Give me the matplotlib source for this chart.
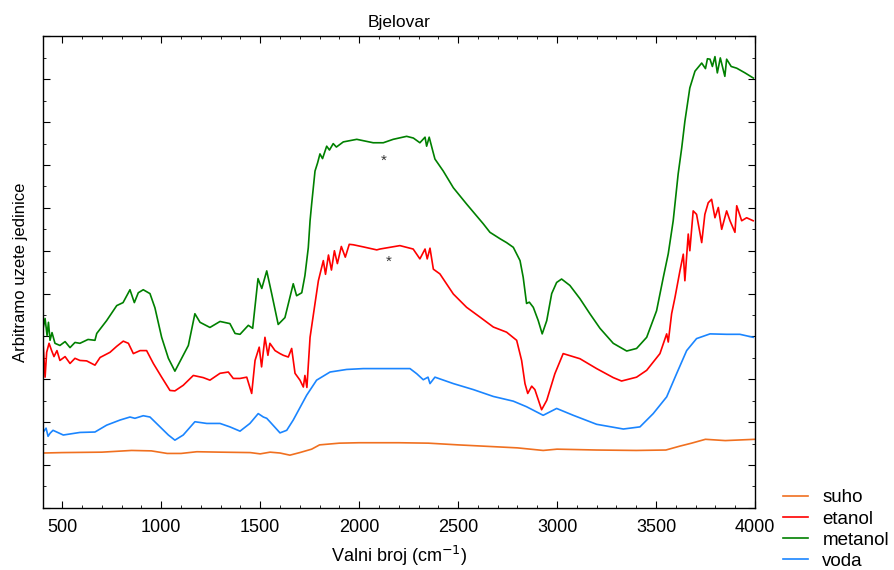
import matplotlib
matplotlib.use("Agg")
import matplotlib.pyplot as plt
from matplotlib.ticker import MultipleLocator, NullFormatter

plt.rcParams['font.family'] = ['Liberation Sans', 'DejaVu Sans']

# metanol (green)
wn_metanol = [404, 413, 423, 430, 438, 448, 463, 488, 514, 539, 564, 589, 630, 665, 674,
              724, 775, 807, 842, 864, 884, 909, 943, 968, 1002, 1036, 1069, 1103, 1137,
              1170, 1196, 1246, 1297, 1347, 1373, 1398, 1440, 1462, 1489, 1508, 1533, 1558,
              1591, 1625, 1667, 1684, 1710, 1726, 1743, 1752, 1760, 1777, 1790, 1802, 1815,
              1836, 1850, 1869, 1885, 1920, 1988, 2071, 2122, 2172, 2240, 2274, 2307, 2333,
              2341, 2354, 2372, 2383, 2425, 2476, 2543, 2627, 2661, 2712, 2745, 2779, 2813,
              2829, 2846, 2860, 2880, 2905, 2925, 2948, 2973, 2998, 3023, 3065, 3116, 3166,
              3217, 3284, 3352, 3402, 3453, 3503, 3537, 3562, 3587, 3612, 3630, 3646, 3671,
              3697, 3731, 3750, 3760, 3773, 3785, 3798, 3810, 3825, 3848, 3857, 3880, 3908,
              3950, 3992]
y_metanol = [4.21, 4.42, 4.02, 4.33, 3.91, 4.09, 3.84, 3.79, 3.88, 3.74, 3.86, 3.84, 3.93,
             3.91, 4.07, 4.37, 4.72, 4.79, 5.09, 4.79, 5.02, 5.09, 5.00, 4.67, 3.98, 3.49,
             3.19, 3.49, 3.79, 4.53, 4.33, 4.21, 4.35, 4.30, 4.07, 4.05, 4.26, 4.19, 5.35,
             5.12, 5.53, 5.00, 4.28, 4.44, 5.23, 4.95, 5.02, 5.42, 6.07, 6.70, 7.09, 7.86,
             8.05, 8.26, 8.15, 8.44, 8.35, 8.50, 8.42, 8.54, 8.60, 8.52, 8.52, 8.60, 8.67,
             8.63, 8.52, 8.65, 8.44, 8.65, 8.33, 8.14, 7.86, 7.47, 7.09, 6.63, 6.43, 6.28,
             6.19, 6.08, 5.77, 5.38, 4.77, 4.80, 4.68, 4.37, 4.06, 4.37, 5.00, 5.26, 5.34,
             5.19, 4.88, 4.53, 4.19, 3.84, 3.66, 3.72, 3.98, 4.60, 5.38, 5.93, 6.70, 7.79,
             8.40, 9.02, 9.80, 10.19, 10.38, 10.25, 10.48, 10.47, 10.30, 10.53, 10.15, 10.50,
             10.07, 10.47, 10.30, 10.26, 10.15, 10.03]

# etanol (red)
wn_etanol = [404, 413, 421, 433, 446, 458, 473, 488, 514, 539, 564, 589, 623, 665, 691,
             741, 775, 808, 834, 859, 893, 926, 960, 1002, 1044, 1069, 1111, 1162, 1212,
             1246, 1297, 1339, 1364, 1398, 1432, 1457, 1474, 1495, 1507, 1524, 1539, 1549,
             1575, 1600, 1617, 1642, 1659, 1676, 1701, 1718, 1726, 1736, 1752, 1777, 1794,
             1819, 1830, 1845, 1860, 1875, 1890, 1910, 1930, 1950, 1970, 2021, 2089, 2105,
             2206, 2273, 2307, 2333, 2344, 2358, 2375, 2408, 2476, 2543, 2611, 2678, 2745,
             2796, 2821, 2838, 2852, 2872, 2888, 2922, 2948, 2989, 3031, 3116, 3200, 3284,
             3326, 3402, 3453, 3520, 3554, 3562, 3579, 3596, 3621, 3638, 3646, 3663, 3671,
             3688, 3705, 3731, 3747, 3764, 3781, 3798, 3815, 3832, 3857, 3874, 3899, 3908,
             3933, 3958, 3991]
y_etanol = [3.75, 3.05, 3.63, 3.84, 3.67, 3.53, 3.67, 3.44, 3.53, 3.37, 3.49, 3.44, 3.43,
            3.33, 3.51, 3.63, 3.77, 3.89, 3.84, 3.60, 3.67, 3.67, 3.37, 3.05, 2.74, 2.73,
            2.86, 3.09, 3.04, 2.98, 3.14, 3.17, 3.02, 3.02, 3.05, 2.67, 3.44, 3.75, 3.29,
            3.98, 3.56, 3.84, 3.67, 3.60, 3.56, 3.52, 3.72, 3.14, 2.98, 2.82, 3.09, 2.81,
            3.98, 4.77, 5.30, 5.77, 5.45, 5.90, 5.55, 6.00, 5.70, 6.10, 5.85, 6.15, 6.14,
            6.09, 6.02, 6.04, 6.12, 6.04, 5.81, 6.04, 5.81, 6.06, 5.57, 5.46, 4.99, 4.68,
            4.45, 4.22, 4.10, 3.91, 3.44, 2.90, 2.67, 2.84, 2.76, 2.29, 2.51, 3.13, 3.60,
            3.48, 3.25, 3.04, 2.96, 3.05, 3.21, 3.60, 4.06, 3.87, 4.53, 4.91, 5.53, 5.92,
            5.30, 6.39, 6.00, 6.93, 6.85, 6.19, 6.85, 7.12, 7.20, 6.77, 7.01, 6.50, 6.93,
            6.70, 6.43, 7.05, 6.70, 6.77, 6.70]

# voda (blue)
wn_voda = [404, 418, 428, 438, 453, 505, 589, 665, 724, 792, 842, 867, 909, 943, 994, 1036,
           1069, 1111, 1170, 1230, 1297, 1347, 1398, 1448, 1490, 1516, 1533, 1549, 1600,
           1634, 1667, 1735, 1785, 1853, 1937, 2021, 2105, 2257, 2291, 2324, 2348, 2358,
           2383, 2476, 2577, 2678, 2779, 2846, 2930, 2998, 3082, 3200, 3335, 3419, 3486,
           3554, 3604, 3655, 3705, 3773, 3857, 3924, 3991]
y_voda = [1.77, 1.86, 1.67, 1.74, 1.81, 1.70, 1.76, 1.77, 1.93, 2.05, 2.12, 2.09, 2.15,
          2.12, 1.89, 1.70, 1.58, 1.70, 2.01, 1.97, 1.97, 1.89, 1.79, 1.97, 2.20, 2.12,
          2.09, 2.01, 1.75, 1.81, 2.05, 2.63, 2.98, 3.17, 3.23, 3.25, 3.25, 3.25, 3.13,
          2.99, 3.05, 2.90, 3.05, 2.90, 2.76, 2.60, 2.49, 2.36, 2.16, 2.32, 2.16, 1.95,
          1.84, 1.89, 2.20, 2.59, 3.13, 3.67, 3.95, 4.06, 4.05, 4.05, 3.98]

# suho (orange)
wn_suho = [404, 500, 700, 850, 950, 1030, 1100, 1180, 1300, 1450, 1500, 1550, 1600, 1650,
           1700, 1760, 1800, 1900, 2000, 2200, 2350, 2500, 2800, 2930, 3000, 3200, 3400,
           3550, 3620, 3680, 3750, 3850, 4000]
y_suho = [1.28, 1.29, 1.30, 1.34, 1.33, 1.27, 1.27, 1.31, 1.30, 1.29, 1.26, 1.30, 1.28,
          1.23, 1.29, 1.37, 1.47, 1.51, 1.52, 1.52, 1.51, 1.47, 1.40, 1.34, 1.37, 1.35,
          1.34, 1.35, 1.44, 1.51, 1.60, 1.57, 1.60]

star_wn = [2125, 2151]
star_y = [8.09, 5.74]

fig = plt.figure(figsize=(8.95, 5.70), dpi=100)
ax = fig.add_axes([0.0475, 0.109, 0.796, 0.827])

ax.plot(wn_suho, y_suho, color='#f07020', lw=1.2, label='suho')
ax.plot(wn_etanol, y_etanol, color='#ff0000', lw=1.2, label='etanol')
ax.plot(wn_metanol, y_metanol, color='#008000', lw=1.2, label='metanol')
ax.plot(wn_voda, y_voda, color='#1a85ff', lw=1.2, label='voda')

for xs, ys in zip(star_wn, star_y):
    ax.text(xs, ys, '*', ha='center', va='center', fontsize=11, color='#333333')

ax.set_xlim(400, 4000)
ax.set_ylim(0, 11)
ax.xaxis.set_major_locator(MultipleLocator(500))
ax.xaxis.set_minor_locator(MultipleLocator(100))
ax.yaxis.set_major_locator(MultipleLocator(1))
ax.yaxis.set_minor_locator(MultipleLocator(0.5))
ax.yaxis.set_major_formatter(NullFormatter())
ax.tick_params(which='both', direction='in', top=True, right=True, labelsize=13)
ax.tick_params(axis='x', which='major', pad=8)
ax.tick_params(which='major', length=5)
ax.tick_params(which='minor', length=2.5)
for s in ax.spines.values():
    s.set_linewidth(1.0)

ax.set_title('Bjelovar', fontsize=12.5, pad=7)
ax.set_xlabel('Valni broj (cm$^{-1}$)', fontsize=13, labelpad=6)
ax.set_ylabel('Arbitramo uzete jedinice', fontsize=12, labelpad=7)

fig.legend(loc='upper left', bbox_to_anchor=(0.8665, 0.155), frameon=False, fontsize=13.5,
           handlelength=1.35, handletextpad=0.75, labelspacing=0.22, borderaxespad=0)

fig.savefig('out.png', dpi=100)
